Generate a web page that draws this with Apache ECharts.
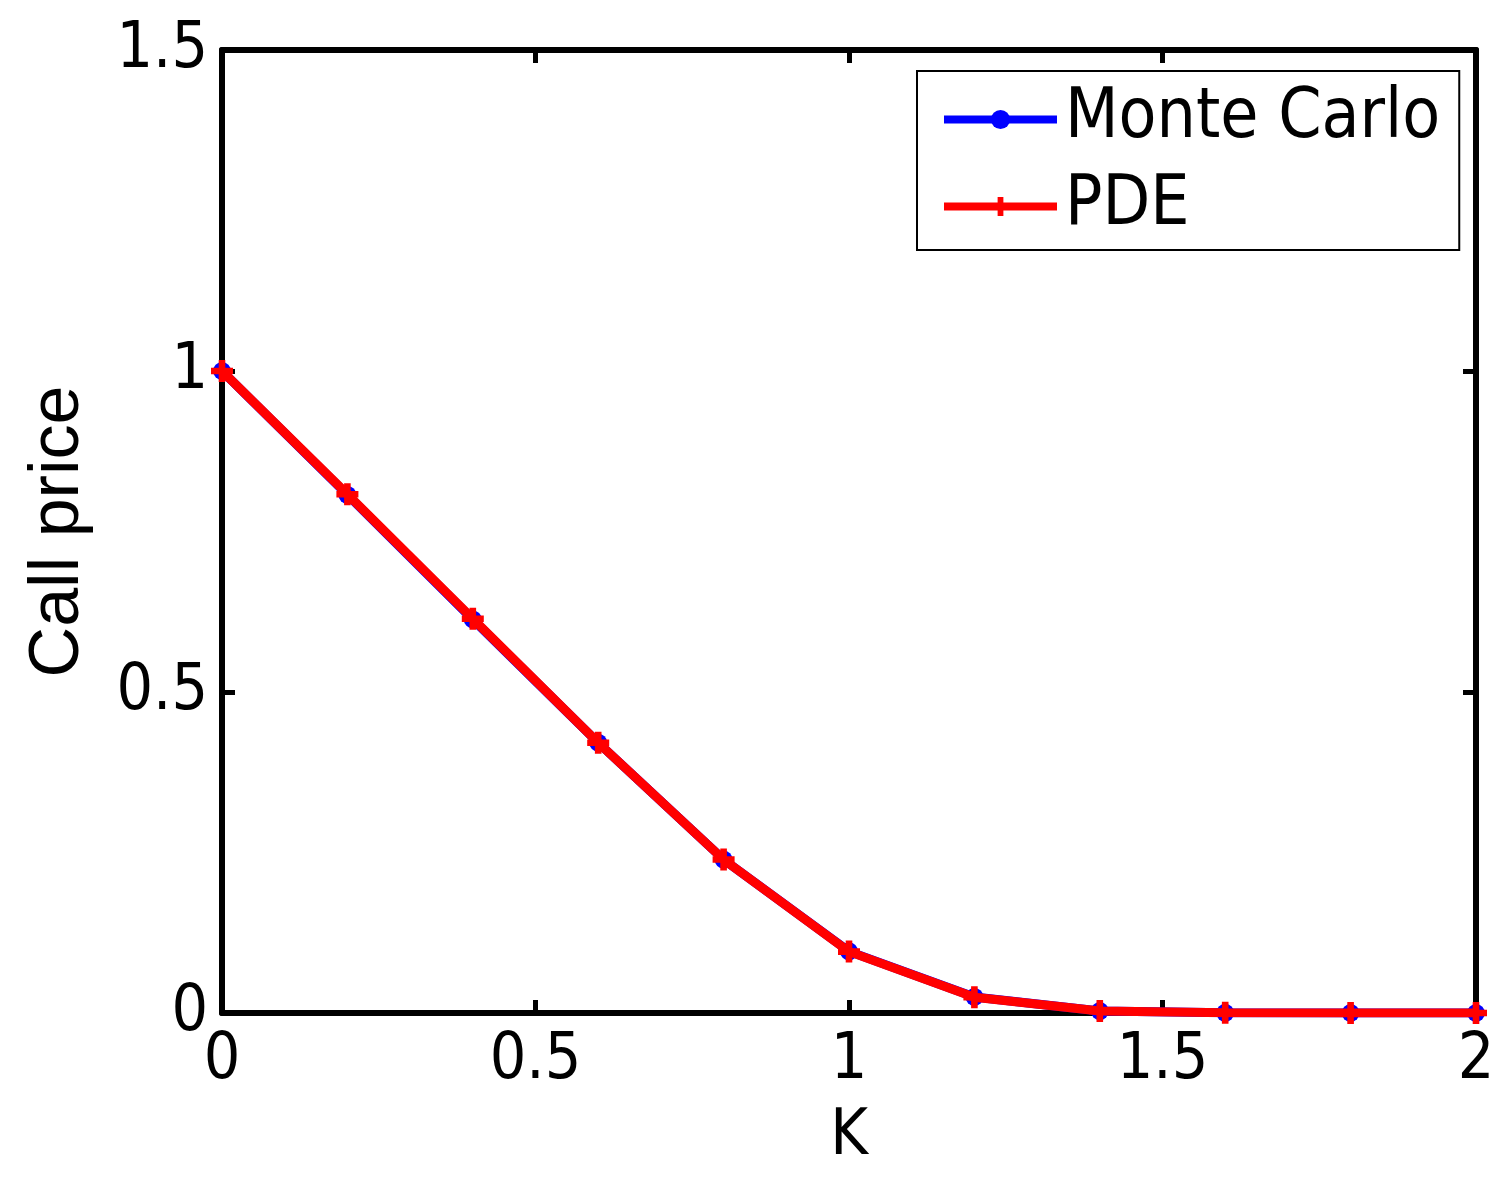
<!DOCTYPE html>
<html>
<head>
<meta charset="utf-8">
<title>Call price vs K</title>
<script src="https://cdn.jsdelivr.net/npm/echarts@6/dist/echarts.min.js"></script>
<style>
  html, body { margin: 0; padding: 0; background: #fff; }
  #main { width: 1501px; height: 1190px; }
</style>
</head>
<body>
<div id="main"></div>
<script>
// strike values
var strikes = [0, 0.2, 0.4, 0.6, 0.8, 1.0, 1.2, 1.4, 1.6, 1.8, 2.0];
// call prices
var monteCarlo = [1.0, 0.807, 0.613, 0.421, 0.239, 0.096, 0.025, 0.003, 0.0003, 0, 0];
var pde = [1.0, 0.808, 0.614, 0.421, 0.239, 0.0956, 0.0245, 0.003, 0.0003, 0, 0];
var xTicks = [0, 0.5, 1, 1.5, 2];
var yTicks = [0, 0.5, 1, 1.5];

var labelFont = '"DejaVu Sans Condensed", "DejaVu Sans", sans-serif';
var plusPath = 'path://M7,0H13V7H20V13H13V20H7V13H0V7H7Z';

function pairs(xs, ys) {
  return xs.map(function (x, i) { return [x, ys[i]]; });
}

function axisBase(show) {
  return {
    type: 'value',
    axisLine: { show: true, onZero: false, lineStyle: { color: '#000', width: 6 } },
    axisTick: { show: true, inside: true, length: 13, lineStyle: { color: '#000', width: 5 } },
    splitLine: { show: false },
    axisLabel: { show: show }
  };
}

var chart = echarts.init(document.getElementById('main'));

var xBottom = Object.assign(axisBase(true), {
  position: 'bottom',
  min: xTicks[0],
  max: xTicks[xTicks.length - 1],
  interval: 0.5,
  name: 'K',
  nameLocation: 'middle',
  nameGap: 92,
  nameTextStyle: { fontFamily: labelFont, fontSize: 64, color: '#000' }
});
xBottom.axisLabel = {
  show: true, margin: 16, color: '#000', fontFamily: labelFont, fontSize: 64,
  formatter: function (v) { return xTicks.indexOf(v) >= 0 ? String(v) : ''; }
};

var xTop = Object.assign(axisBase(false), {
  position: 'top', min: 0, max: 2, interval: 0.5
});

var yLeft = Object.assign(axisBase(true), {
  position: 'left',
  min: yTicks[0],
  max: yTicks[yTicks.length - 1],
  interval: 0.5,
  name: 'Call price',
  nameLocation: 'middle',
  nameGap: 128,
  nameTextStyle: { fontFamily: '"Liberation Sans", Arial, sans-serif', fontSize: 70, color: '#000' }
});
yLeft.axisLabel = {
  show: true, margin: 14, color: '#000', fontFamily: labelFont, fontSize: 64,
  formatter: function (v) { return yTicks.indexOf(v) >= 0 ? String(v) : ''; }
};

var yRight = Object.assign(axisBase(false), {
  position: 'right', min: 0, max: 1.5, interval: 0.5
});

var option = {
  backgroundColor: '#ffffff',
  animation: false,
  grid: { left: 222, right: 25, top: 50, bottom: 177, containLabel: false },
  legend: {
    orient: 'vertical',
    left: 917,
    top: 71,
    padding: [5, 19, 0, 23],
    itemGap: 0,
    itemWidth: 113,
    itemHeight: 24,
    borderColor: '#000',
    borderWidth: 2,
    backgroundColor: '#fff',
    lineStyle: { width: 8 },
    textStyle: { fontFamily: labelFont, fontSize: 69, color: '#000', lineHeight: 87, padding: [0, 0, 0, 3] },
    data: ['Monte Carlo', 'PDE']
  },
  xAxis: [xBottom, xTop],
  yAxis: [yLeft, yRight],
  series: [
    {
      name: 'Monte Carlo',
      type: 'line',
      data: pairs(strikes, monteCarlo),
      symbol: 'circle',
      symbolSize: 18,
      itemStyle: { color: '#0000ff' },
      lineStyle: { color: '#0000ff', width: 9 },
      z: 2
    },
    {
      name: 'PDE',
      type: 'line',
      data: pairs(strikes, pde),
      symbol: plusPath,
      symbolSize: 22,
      itemStyle: { color: '#ff0000' },
      lineStyle: { color: '#ff0000', width: 9 },
      z: 3
    }
  ]
};

chart.setOption(option);
</script>
</body>
</html>
